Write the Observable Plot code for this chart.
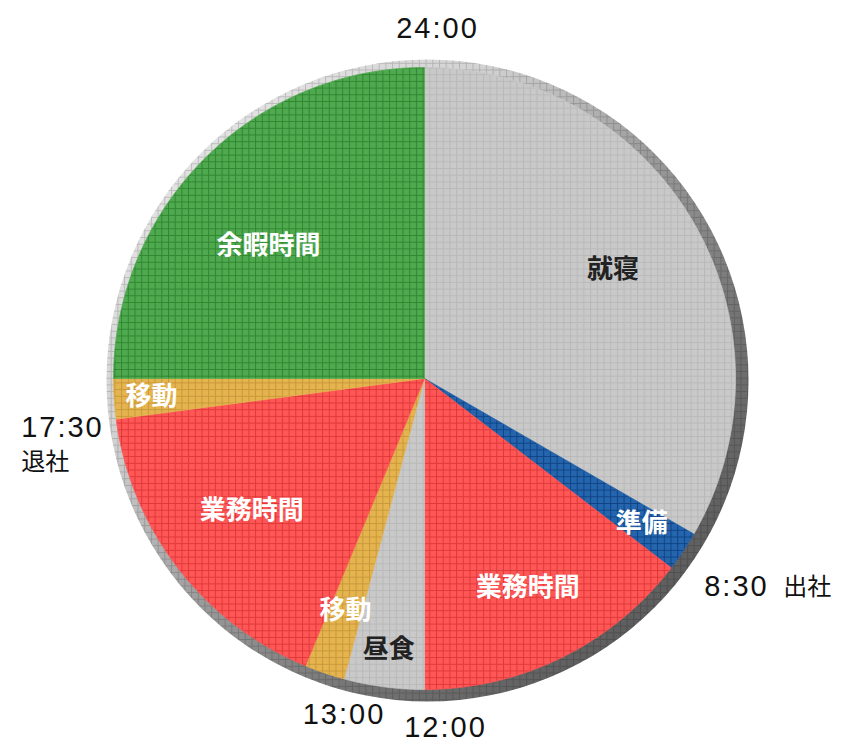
<!DOCTYPE html>
<html><head><meta charset="utf-8">
<script src="https://cdn.jsdelivr.net/npm/d3@7"></script>
<script src="https://cdn.jsdelivr.net/npm/@observablehq/plot@0.6"></script>
<style>
html,body{margin:0;padding:0;background:#fff;}
#chart svg{display:block;}
</style>
</head><body><div id="chart"></div>
<script>
// ---- data ----
const categories = ["就寝","準備","業務時間","昼食","移動","業務時間","移動","余暇時間"];
const hours = [8, 0.5, 3.5, 1, 0.5, 4, 0.5, 6];
const palette = {"就寝":"#c9c9c9","準備":"#2565ae","業務時間":"#ff5656","昼食":"#c9c9c9","移動":"#e5b44f","余暇時間":"#4fa94f"};
const gridPalette = {"就寝":"#b9b9b9","準備":"#0f4384","業務時間":"#df3838","昼食":"#b9b9b9","移動":"#c8983a","余暇時間":"#2f872f"};
const darkLabels = ["就寝","昼食"];
const tickLabels = ["24:00","8:30","17:30","13:00","12:00"];
const tickHours = [24, 8.5, 17.5, 13, 12];
const tickNotes = ["", "出社", "退社", "", ""];

// ---- geometry ----
const W = 852, H = 750, CX = 424, CY = 378, R = 311;
const ang = h => h / 24 * 2 * Math.PI;
const pos = (h, r) => ({x: r * Math.sin(ang(h)), y: r * Math.cos(ang(h))});

const starts = [];
{ let acc = 0; for (const h of hours) { starts.push(acc); acc += h; } }

const wedgePts = [];
categories.forEach((cat, i) => {
  const s = starts[i], e = s + hours[i];
  const n = Math.max(2, Math.ceil((e - s) * 30));
  wedgePts.push({id: i, cat, x: 0, y: 0});
  for (let k = 0; k <= n; k++) {
    const p = pos(s + (e - s) * k / n, 1);
    wedgePts.push({id: i, cat, ...p});
  }
  wedgePts.push({id: i, cat, x: 0, y: 0});
});

const uniqueCats = Array.from(new Set(categories));
const patId = cat => "pat-" + uniqueCats.indexOf(cat);

// label placement (radius fraction, angle tweak in hours)
const labelPlace = [[0.70,0],[0.84,0],[0.75,0],[0.88,0],[0.79,0],[0.70,0],[0.88,0],[0.66,-0.3]];
const segLabels = categories.map((cat, i) => {
  const mid = starts[i] + hours[i] / 2 + labelPlace[i][1];
  const p = pos(mid, labelPlace[i][0]);
  return {cat, ...p, color: darkLabels.includes(cat) ? "#222" : "#fff"};
});

const ticks = tickLabels.map((t, i) => ({label: t, note: tickNotes[i], ...pos(tickHours[i], 1)}));
const tickLayout = [
  {dx: 13, dy: -39, anchor: "middle"},
  {dx: 33, dy: 19, anchor: "start", ndx: 112, ndy: 19},
  {dx: -95, dy: 9, anchor: "start", ndx: -95, ndy: 43},
  {dx: 0, dy: 36, anchor: "middle"},
  {dx: 21, dy: 38, anchor: "middle"}
];

const center = [{x: 0, y: 0}];
const tickMarks = [];
ticks.forEach((t, i) => {
  const L = tickLayout[i];
  tickMarks.push(Plot.text([t], {x: "x", y: "y", text: "label", dx: L.dx, dy: L.dy, textAnchor: L.anchor,
    fontSize: 29, fontFamily: "Liberation Sans, Arial, sans-serif", fill: "#111"}));
  if (t.note) tickMarks.push(Plot.text([t], {x: "x", y: "y", text: "note", dx: L.ndx, dy: L.ndy, textAnchor: "start",
    fontSize: 24, fontFamily: "Noto Sans CJK JP, sans-serif", fill: "#111"}));
});

const svg = Plot.plot({
  width: W, height: H,
  margin: 0,
  x: {domain: [-CX / R, (W - CX) / R], axis: null},
  y: {domain: [-(H - CY) / R, CY / R], axis: null},
  color: {type: "identity"},
  marks: [
    Plot.dot(center, {x: "x", y: "y", r: 321, dx: 3, dy: 2, fill: "url(#ringGrad)"}),
    Plot.dot(center, {x: "x", y: "y", r: 321, dx: 3, dy: 2, fill: "url(#ringPat)"}),
    Plot.line(wedgePts, {x: "x", y: "y", z: "id", fill: d => `url(#${patId(d.cat)})`, stroke: d => palette[d.cat], strokeWidth: 0.7}),
    Plot.text(segLabels, {x: "x", y: "y", text: "cat", fill: "color", fontSize: 26, fontWeight: 700,
      fontFamily: "Noto Sans CJK JP, sans-serif"}),
    ...tickMarks
  ]
});

const CELL = 6.7;
const defs = d3.select(svg).insert("defs", ":first-child");
function addPattern(id, bg, line) {
  const p = defs.append("pattern").attr("id", id).attr("patternUnits", "userSpaceOnUse")
    .attr("width", CELL).attr("height", CELL);
  if (bg) p.append("rect").attr("width", CELL).attr("height", CELL).attr("fill", bg);
  p.append("path").attr("d", `M0,0.5H${CELL}M0.5,0V${CELL}`).attr("stroke", line)
    .attr("stroke-width", 1).attr("fill", "none");
}
uniqueCats.forEach(cat => addPattern(patId(cat), palette[cat], gridPalette[cat]));
addPattern("ringPat", null, "rgba(0,0,0,0.16)");
const g = defs.append("linearGradient").attr("id", "ringGrad")
  .attr("x1", 0).attr("y1", 0).attr("x2", 1).attr("y2", 1);
[[0.15,"#e2e2e2"],[0.3,"#d2d2d2"],[0.5,"#9a9a9a"],[0.7,"#727272"],[0.85,"#5e5e5e"]]
  .forEach(([o, c]) => g.append("stop").attr("offset", o).attr("stop-color", c));

d3.select(svg).selectAll("text").filter(function() { return /\d:\d/.test(this.textContent); })
  .attr("letter-spacing", "2px");

document.getElementById("chart").appendChild(svg);
</script>
</body></html>
